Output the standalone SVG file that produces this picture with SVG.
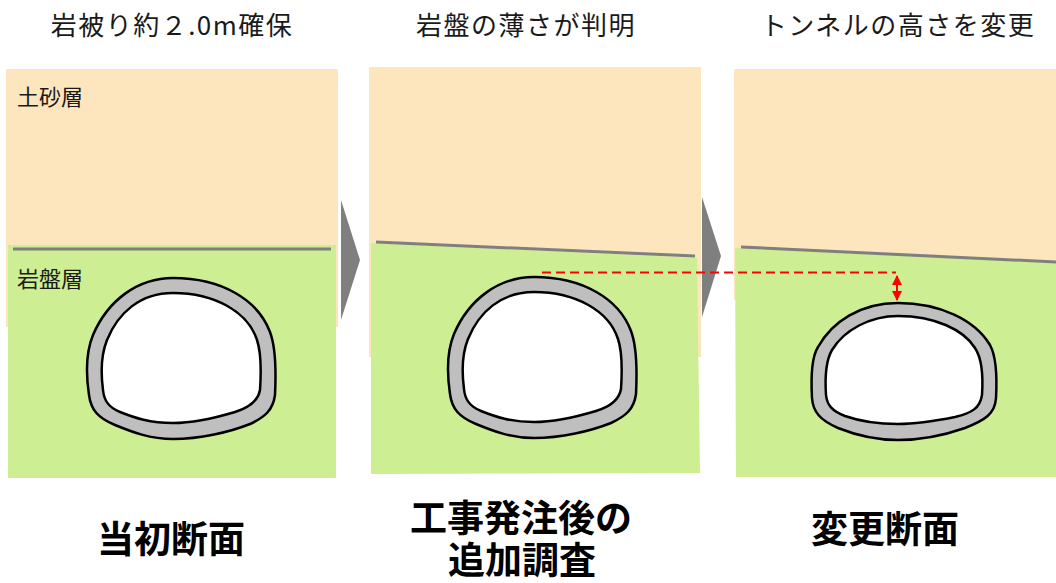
<svg xmlns="http://www.w3.org/2000/svg" width="1056" height="583" viewBox="0 0 1056 583">
  <style>
    .soil { fill: #fde6bd; }
    .rock { fill: #cdee93; }
    .boundary { stroke: #7f7f7f; stroke-width: 3; fill: none; }
    .lining { fill: #bfbfbf; stroke: #000; stroke-width: 2.5; stroke-linejoin: round; }
    .bore { fill: #fff; stroke: #000; stroke-width: 2.5; stroke-linejoin: round; }
    .step { fill: #7f7f7f; }
    .caption { font-family: "Noto Sans CJK JP", "Noto Sans", sans-serif; font-size: 26px; fill: #1a1a1a; text-anchor: middle; letter-spacing: 1.5px; }
    .layer { font-family: "Noto Sans CJK JP", "Noto Sans", sans-serif; font-size: 22px; fill: #1a1a1a; }
    .title { font-family: "Noto Sans CJK JP", "Noto Sans", sans-serif; font-size: 37px; font-weight: 700; fill: #000; text-anchor: middle; }
    .guide { stroke: #ff0000; stroke-width: 2.2; stroke-dasharray: 9 5; fill: none; }
    .measure { stroke: #ff0000; stroke-width: 2; fill: none; }
  </style>
  <defs>
    <marker id="tip" viewBox="0 0 10 10" refX="9" refY="5" markerWidth="5" markerHeight="5" orient="auto-start-reverse" markerUnits="strokeWidth">
      <path d="M0,0 L10,5 L0,10 Z" fill="#ff0000"/>
    </marker>
    <!-- original tunnel section: outer lining and inner bore -->
    <path id="ringOuter" d="M173,278 C222,278 258,300 270,332 C276,348 276,375 275,395 C273,410 265,417 250,424 C230,432 200,439 173,439 C150,439 132,432 115,425 C98,418 91,410 89,395 C86,375 86,352 93,335 C108,300 138,278 173,278 Z"/>
    <path id="ringInner" d="M173,293 C215,293 248,312 257,340 C262,355 261,375 260,390 C258,402 248,408 235,412 C215,418 195,423 173,423 C150,423 135,418 120,412 C108,407 104,400 103,390 C101,375 101,355 107,340 C118,313 140,293 173,293 Z"/>
  </defs>

  <rect width="1056" height="583" fill="#fff"/>

  <!-- panel 1: initial section -->
  <g id="panel-initial">
    <rect class="soil" x="6" y="69" width="332" height="258"/>
    <rect class="rock" x="8" y="245" width="328" height="233"/>
    <line class="boundary" x1="13" y1="249" x2="331" y2="249"/>
    <use href="#ringOuter" class="lining"/>
    <use href="#ringInner" class="bore"/>
    <text class="layer" x="17" y="105">土砂層</text>
    <text class="layer" x="17" y="287">岩盤層</text>
  </g>

  <!-- panel 2: after additional survey -->
  <g id="panel-survey">
    <rect class="soil" x="369" y="67" width="332" height="290"/>
    <polygon class="rock" points="371,243 697,258 700,473 371,474"/>
    <line class="boundary" x1="376" y1="242" x2="695" y2="256"/>
    <g transform="translate(361,-1)">
      <use href="#ringOuter" class="lining"/>
      <use href="#ringInner" class="bore"/>
    </g>
  </g>

  <!-- panel 3: revised section -->
  <g id="panel-revised">
    <rect class="soil" x="734" y="69" width="322" height="231"/>
    <polygon class="rock" points="735,248 1056,263 1056,477 736,477"/>
    <line class="boundary" x1="741" y1="247" x2="1056" y2="262"/>
    <path class="lining" d="M898,303 C940,303 975,320 990,345 C997,358 997,380 996,398 C995,414 985,420 965,428 C945,435 925,440 898,440 C875,440 858,436 838,428 C820,420 813,412 812,398 C811,380 811,358 818,347 C832,322 860,303 898,303 Z"/>
    <path class="bore" d="M898,316 C935,316 964,330 975,348 C983,360 983,380 982,395 C980,408 972,413 955,417 C935,421 918,424 898,424 C878,424 862,422 845,416 C832,411 827,405 826,395 C825,380 825,362 832,350 C844,330 870,316 898,316 Z"/>
  </g>

  <!-- step arrows and the rock-cover reference line -->
  <g id="connectors">
    <polygon class="step" points="341,200 360,260 341,320"/>
    <polygon class="step" points="702,197 721,256 702,317"/>
    <line class="guide" x1="542" y1="272.5" x2="896" y2="272.5"/>
    <line class="measure" x1="897" y1="276" x2="897" y2="300" marker-start="url(#tip)" marker-end="url(#tip)"/>
  </g>

  <!-- step captions -->
  <text class="caption" x="172" y="35" letter-spacing="2.5">岩被り約２.0m確保</text>
  <text class="caption" x="526" y="35">岩盤の薄さが判明</text>
  <text class="caption" x="898" y="35">トンネルの高さを変更</text>

  <text class="title" x="171" y="553">当初断面</text>
  <text class="title" x="521" y="532">工事発注後の</text>
  <text class="title" x="522" y="574">追加調査</text>
  <text class="title" x="885" y="543">変更断面</text>
</svg>
